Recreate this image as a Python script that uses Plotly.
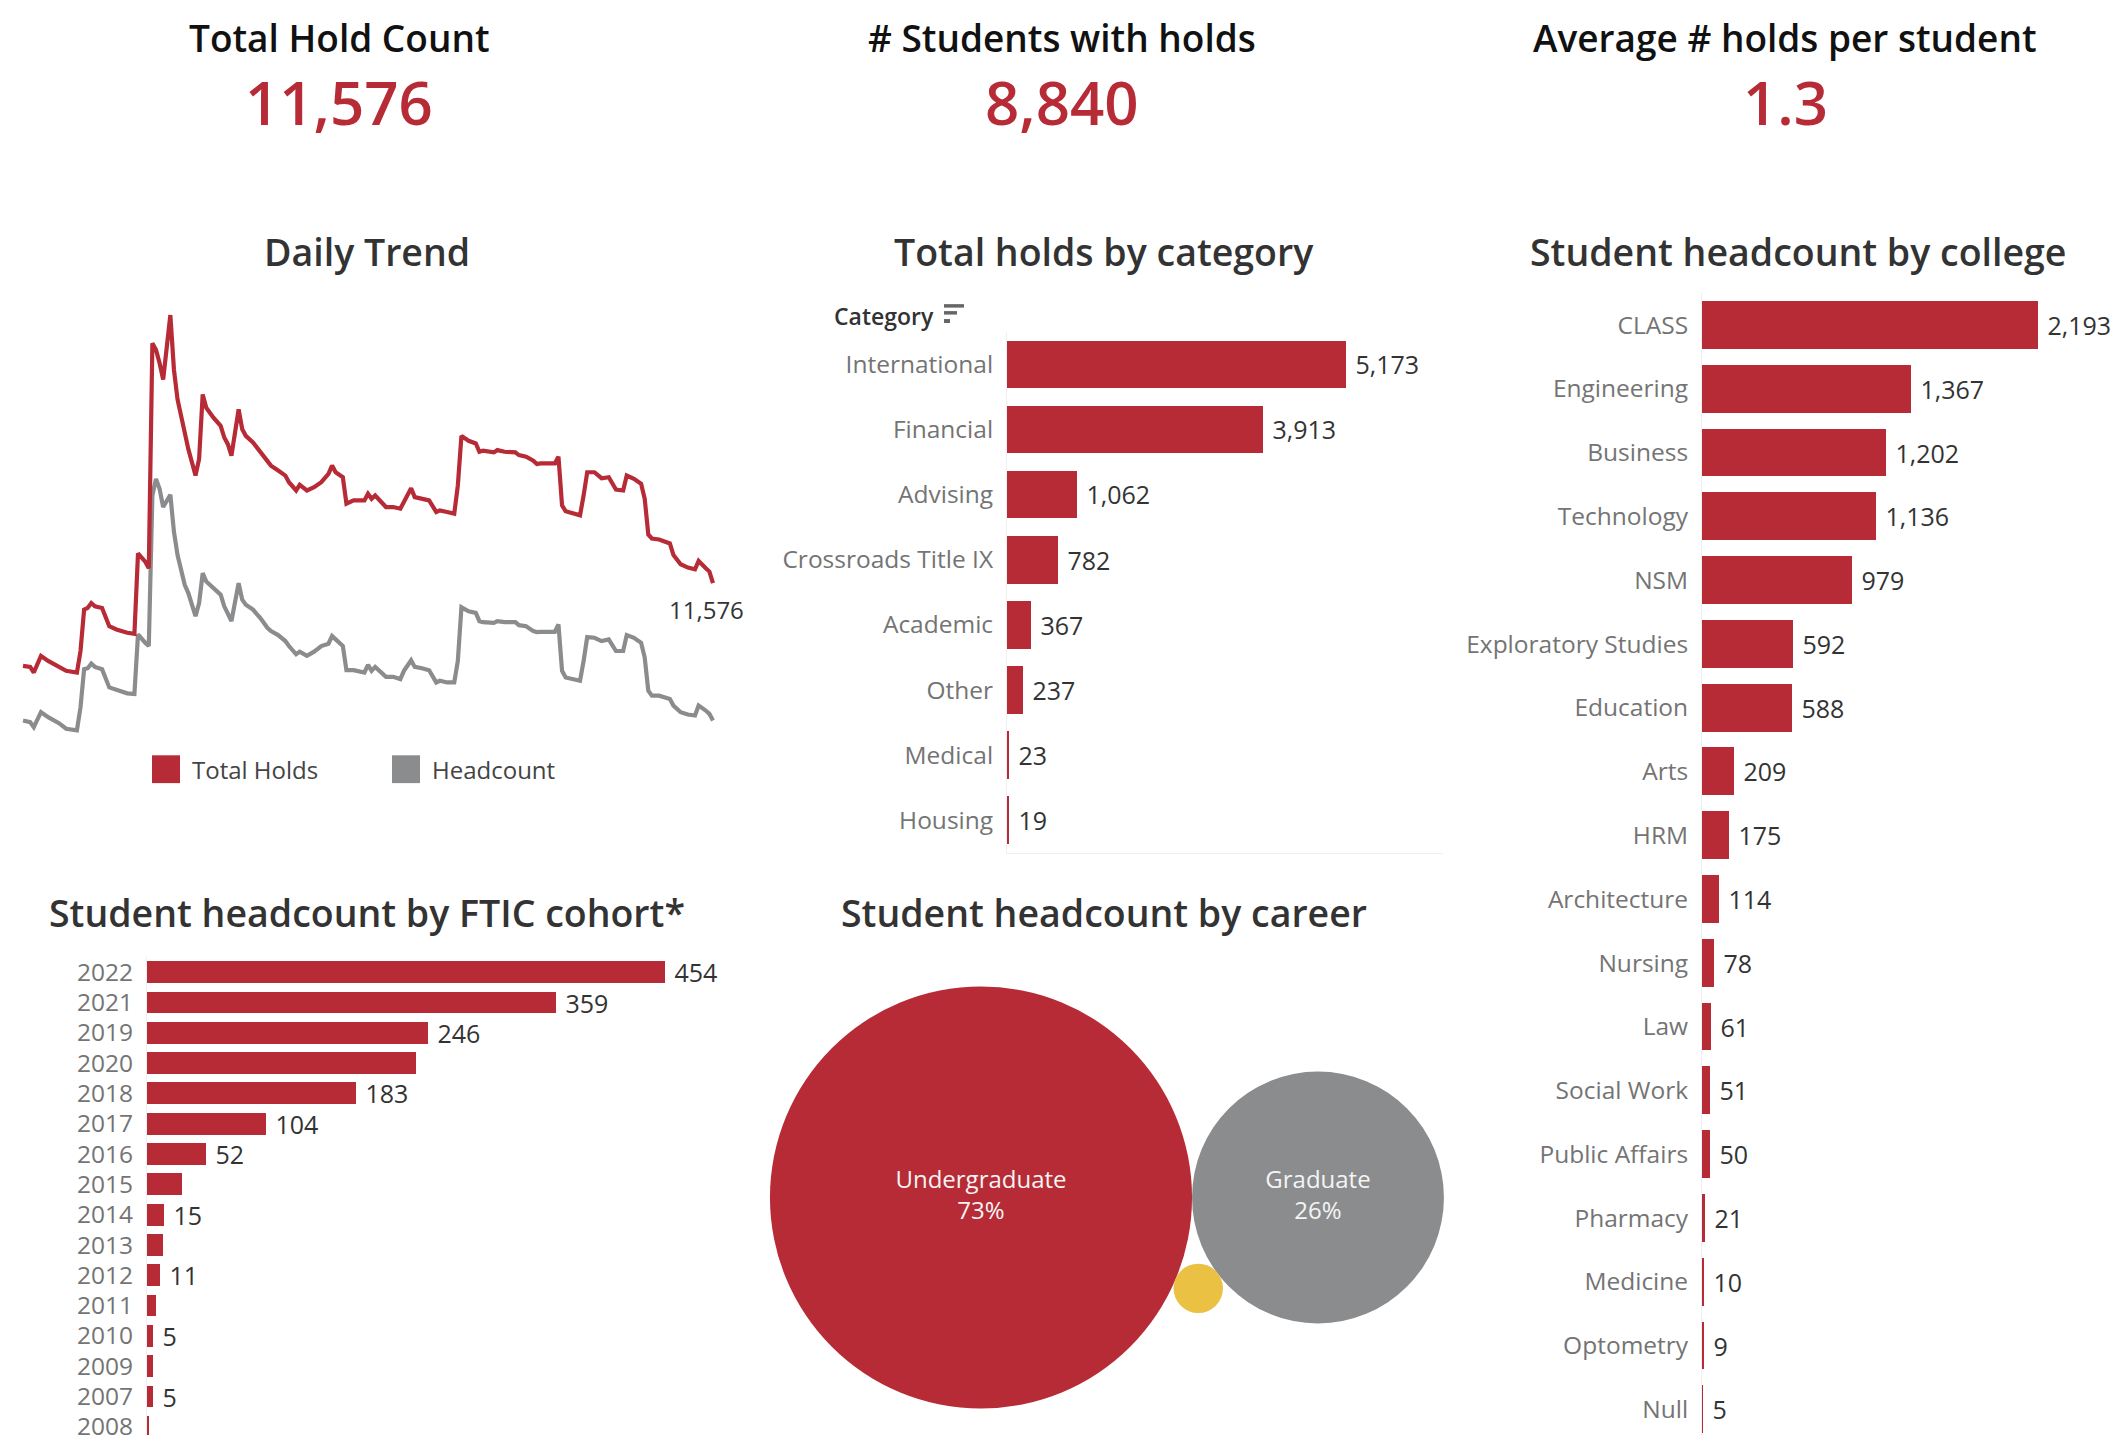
import math
import plotly.graph_objects as go

# window is 2126x1442; the page body has an 8px margin, so the figure is 8px smaller
WIN_W, WIN_H = 2126, 1442
OFF = 8
W, H = WIN_W - OFF, WIN_H - OFF
RED = "#B72B36"
GRAY = "#8A8C8E"
YELLOW = "#EBC143"
FONT = "Open Sans"

# ---------------- data ----------------
kpi_titles = ["Total Hold Count", "# Students with holds", "Average # holds per student"]
kpi_values = ["11,576", "8,840", "1.3"]

trend_day = [0, 2, 3, 5, 7, 10, 12, 15, 16, 17, 18, 19, 20, 22, 24, 26, 29, 31, 32, 34,
             35, 36, 37, 38, 39, 41, 42, 43, 45, 46, 48, 49, 50, 51, 53, 55, 56, 57, 58, 60,
             61, 62, 64, 65, 66, 68, 69, 71, 73, 74, 76, 77, 79, 81, 83, 85, 86, 87, 89, 90,
             92, 95, 96, 97, 98, 101, 103, 105, 106, 108, 109, 111, 113, 115, 116, 118, 120, 121, 122, 124,
             126, 127, 128, 131, 132, 134, 137, 138, 140, 142, 143, 144, 148, 149, 150, 151, 155, 156, 157, 159,
             161, 163, 165, 167, 168, 170, 172, 173, 174, 175, 177, 180, 181, 183, 185, 187, 188, 190, 191, 192]
trend_holds = [9928, 9908, 9796, 10126, 10027, 9895, 9829, 9796, 10224, 11049, 11082, 11180, 11114, 11082, 10719, 10653, 10587, 10567, 12169, 12005,
               11873, 16356, 16224, 15960, 15631, 16916, 15828, 15235, 14510, 14246, 13719, 14048, 15334, 15070, 14873, 14708, 14477, 14345, 14114, 15037,
               14642, 14510, 14378, 14279, 14180, 14015, 13917, 13818, 13719, 13587, 13422, 13534, 13422, 13488, 13587, 13752, 13917, 13785, 13686, 13158,
               13224, 13224, 13356, 13257, 13323, 13092, 13092, 13059, 13191, 13468, 13290, 13257, 13224, 12993, 13026, 12993, 12961, 13521, 14510, 14411,
               14358, 14193, 14213, 14180, 14226, 14193, 14180, 14127, 14095, 14015, 13949, 13963, 13963, 14095, 13125, 13007, 12928, 13323, 13785, 13785,
               13666, 13686, 13442, 13422, 13719, 13653, 13554, 13257, 12545, 12466, 12446, 12367, 12136, 11952, 11886, 11853, 12018, 11873, 11807, 11576]
trend_headcount = [8840, 8807, 8708, 9005, 8906, 8787, 8675, 8642, 9104, 9862, 9882, 9974, 9908, 9862, 9499, 9446, 9381, 9367, 10554, 10389,
                   10323, 13323, 13653, 13455, 13092, 13336, 12598, 12136, 11543, 11378, 10917, 11180, 11774, 11609, 11477, 11345, 11114, 10983, 10818, 11576,
                   11246, 11147, 11049, 10963, 10884, 10686, 10620, 10541, 10422, 10323, 10159, 10211, 10126, 10211, 10323, 10369, 10521, 10455, 10323, 9842,
                   9842, 9796, 9948, 9829, 9908, 9710, 9710, 9664, 9829, 10040, 9908, 9882, 9842, 9598, 9631, 9598, 9598, 10027, 11095, 11016,
                   10983, 10818, 10798, 10785, 10818, 10798, 10798, 10739, 10719, 10620, 10600, 10607, 10607, 10752, 9829, 9697, 9631, 10027, 10501, 10488,
                   10422, 10455, 10224, 10224, 10541, 10488, 10389, 10093, 9433, 9334, 9334, 9268, 9137, 9005, 8959, 8939, 9137, 9038, 8972, 8840]
trend_series = ["Total Holds", "Headcount"]

categories = ["International", "Financial", "Advising", "Crossroads Title IX",
              "Academic", "Other", "Medical", "Housing"]
category_holds = [5173, 3913, 1062, 782, 367, 237, 23, 19]

colleges = ["CLASS", "Engineering", "Business", "Technology", "NSM", "Exploratory Studies",
            "Education", "Arts", "HRM", "Architecture", "Nursing", "Law", "Social Work",
            "Public Affairs", "Pharmacy", "Medicine", "Optometry", "Null"]
college_headcount = [2193, 1367, 1202, 1136, 979, 592, 588, 209, 175, 114, 78, 61, 51, 50, 21, 10, 9, 5]

ftic_years = ["2022", "2021", "2019", "2020", "2018", "2017", "2016", "2015",
              "2014", "2013", "2012", "2011", "2010", "2009", "2007", "2008"]
ftic_headcount = [454, 359, 246, 236, 183, 104, 52, 31, 15, 14, 11, 8, 5, 5, 5, 2]
ftic_labeled = [1, 1, 1, 0, 1, 1, 1, 0, 1, 0, 1, 0, 1, 0, 1, 0]

careers = ["Undergraduate", "Graduate", "Other"]
career_pct = [73, 26, 1]
career_labeled = [1, 1, 0]
career_colors = [RED, GRAY, YELLOW]

section_titles = ["Daily Trend", "Total holds by category", "Student headcount by college",
                  "Student headcount by FTIC cohort*", "Student headcount by career"]


# ---------------- helpers (window pixels -> paper) ----------------
def px(p):
    return (p - OFF) / W


def py(p):
    return 1 - (p - OFF) / H


def dx(a, b):
    return [px(a), px(b)]


def dy(top, bottom):
    return [py(bottom), py(top)]


fig = go.Figure()

# ---- Daily trend ----
fig.add_trace(go.Scatter(x=trend_day, y=trend_headcount, mode="lines", name=trend_series[1],
                         line=dict(color=GRAY, width=4.2), showlegend=False,
                         xaxis="x", yaxis="y"))
fig.add_trace(go.Scatter(x=trend_day, y=trend_holds, mode="lines", name=trend_series[0],
                         line=dict(color=RED, width=4.2), showlegend=False,
                         xaxis="x", yaxis="y"))

# ---- Category bars ----
fig.add_trace(go.Bar(y=categories, x=category_holds, orientation="h",
                     marker=dict(color=RED, line=dict(width=0)), width=0.73,
                     texttemplate=" %{x:,}", textposition="outside", cliponaxis=False,
                     constraintext="none",
                     textfont=dict(size=25, color="#333333", family=FONT),
                     xaxis="x2", yaxis="y2", showlegend=False))

# ---- College bars ----
fig.add_trace(go.Bar(y=colleges, x=college_headcount, orientation="h",
                     marker=dict(color=RED, line=dict(width=0)), width=0.75,
                     texttemplate=" %{x:,}", textposition="outside", cliponaxis=False,
                     constraintext="none",
                     textfont=dict(size=25, color="#333333", family=FONT),
                     xaxis="x3", yaxis="y3", showlegend=False))

# ---- FTIC bars ----
ftic_text = [(" " + f"{v:,}") if s else "" for v, s in zip(ftic_headcount, ftic_labeled)]
fig.add_trace(go.Bar(y=ftic_years, x=ftic_headcount, orientation="h",
                     marker=dict(color=RED, line=dict(width=0)), width=0.72,
                     text=ftic_text, textposition="outside", cliponaxis=False,
                     constraintext="none",
                     textfont=dict(size=25, color="#333333", family=FONT),
                     xaxis="x4", yaxis="y4", showlegend=False))

# ---- Career bubbles (packed; axis units = pixels) ----
bubble_scale = 49.4  # diameter px per sqrt(percent)
diam = [bubble_scale * math.sqrt(p) for p in career_pct]
r = [d / 2 for d in diam]
D = r[0] + r[1]
d1, d2 = r[0] + r[2], r[1] + r[2]
x3 = (d1 ** 2 - d2 ** 2 + D ** 2) / (2 * D)
y3 = -math.sqrt(max(d1 ** 2 - x3 ** 2, 0))
cx = [0, D, x3]
cy = [0, 0, y3]
career_text = [f"{n}<br>{p}%" if s else "" for n, p, s in zip(careers, career_pct, career_labeled)]
fig.add_trace(go.Scatter(x=cx, y=cy, mode="markers+text",
                         marker=dict(size=diam, sizemode="diameter", color=career_colors,
                                     opacity=1, line=dict(width=0)),
                         text=career_text, textposition="middle center",
                         textfont=dict(size=24, color="#F4F4F4", family=FONT),
                         cliponaxis=False, hoverinfo="text", hovertext=careers,
                         xaxis="x5", yaxis="y5", showlegend=False))

# ---------------- layout ----------------
hidden = dict(visible=False, showgrid=False, zeroline=False)
bar_x = dict(showgrid=False, zeroline=False, showticklabels=False, ticks="", showline=False)


def cat_y(domain, rng, anchor):
    return dict(domain=domain, type="category", range=rng, anchor=anchor,
                showgrid=False, zeroline=False, ticks="", showline=True,
                linecolor="#f0f0f0", linewidth=1,
                tickfont=dict(size=24.5, color="#747474", family=FONT),
                ticklabelstandoff=8)


fig.update_layout(
    width=W, height=H,
    margin=dict(l=0, r=0, t=0, b=0),
    paper_bgcolor="white", plot_bgcolor="white",
    font=dict(family=FONT, color="#333333"),
    bargap=0,
    showlegend=False,
    xaxis=dict(domain=dx(15, 721), range=[-2.23, 194.23], anchor="y", **hidden),
    yaxis=dict(domain=dy(300, 750), range=[8305, 17213], anchor="x", **hidden),
    xaxis2=dict(domain=dx(1007, 1443), range=[0, 6653], anchor="y2", **bar_x),
    yaxis2=cat_y(dy(332, 856), [7.5, -0.5], "x2"),
    xaxis3=dict(domain=dx(1702, 2124), range=[0, 2754], anchor="y3", **bar_x),
    yaxis3=cat_y(dy(293, 1442), [17.4, -0.5], "x3"),
    xaxis4=dict(domain=dx(147, 740), range=[0, 520], anchor="y4", **bar_x),
    yaxis4=cat_y(dy(961, 1442), [15.27, -0.5], "x4"),
    xaxis5=dict(domain=dx(760, 1460), range=[-221, 479], anchor="y5", **hidden),
    yaxis5=dict(domain=dy(960, 1440), range=[-237, 243], anchor="x5", **hidden),
    hovermode=False,
)

# category bottom axis line
fig.update_layout(xaxis2=dict(showline=True, linecolor="#eeeeee", linewidth=1))

annotations = []
# KPI tiles
for t, v, xc in zip(kpi_titles, kpi_values, [339, 1062, 1785]):
    annotations.append(dict(text=t, x=px(xc), y=py(OFF), xref="paper", yref="paper",
                            xanchor="center", yanchor="top", showarrow=False,
                            font=dict(size=37, color="#111111", family=FONT, weight=600)))
    annotations.append(dict(text=v, x=px(xc), y=py(101), xref="paper", yref="paper",
                            xanchor="center", yanchor="middle", showarrow=False,
                            font=dict(size=60, color=RED, family=FONT, weight=600)))
# section titles
for t, (xc, yc) in zip(section_titles, [(367, 251), (1104, 251), (1798, 251), (367, 916), (1104, 916)]):
    annotations.append(dict(text=t, x=px(xc), y=py(yc), xref="paper", yref="paper",
                            xanchor="center", yanchor="middle", showarrow=False,
                            font=dict(size=37.5, color="#333333", family=FONT, weight=600)))
# end label on trend
annotations.append(dict(text=f"{trend_holds[-1]:,}", x=trend_day[-1], y=trend_holds[-1],
                        xref="x", yref="y", xanchor="center", yanchor="middle",
                        xshift=-6, yshift=-26, showarrow=False,
                        font=dict(size=24, color="#333333", family=FONT)))
# category header
annotations.append(dict(text="Category", x=px(832), y=py(316), xref="paper", yref="paper",
                        xanchor="left", yanchor="middle", showarrow=False,
                        font=dict(size=23, color="#333333", family=FONT, weight=600)))
# legend of the daily trend (large square swatches)
for nm, tx in zip(trend_series, [190, 430]):
    annotations.append(dict(text=nm, x=px(tx), y=py(772), xref="paper", yref="paper",
                            xanchor="left", yanchor="middle", showarrow=False,
                            font=dict(size=24, color="#444444", family=FONT)))
fig.update_layout(annotations=annotations)

shapes = []
# sort icon next to "Category"
for (x0, x1, y0, y1) in [(944, 964, 304, 307.5), (944, 957, 311, 314.5), (944, 950, 319, 323)]:
    shapes.append(dict(type="rect", xref="paper", yref="paper",
                       x0=px(x0), x1=px(x1), y0=py(y1), y1=py(y0),
                       fillcolor="#666666", line=dict(width=0)))
# legend swatches
for col, sx in zip([RED, GRAY], [152, 392]):
    shapes.append(dict(type="rect", xref="paper", yref="paper",
                       x0=px(sx), x1=px(sx + 28), y0=py(786), y1=py(758),
                       fillcolor=col, line=dict(width=0)))
fig.update_layout(shapes=shapes)

fig.write_html("out.html")
